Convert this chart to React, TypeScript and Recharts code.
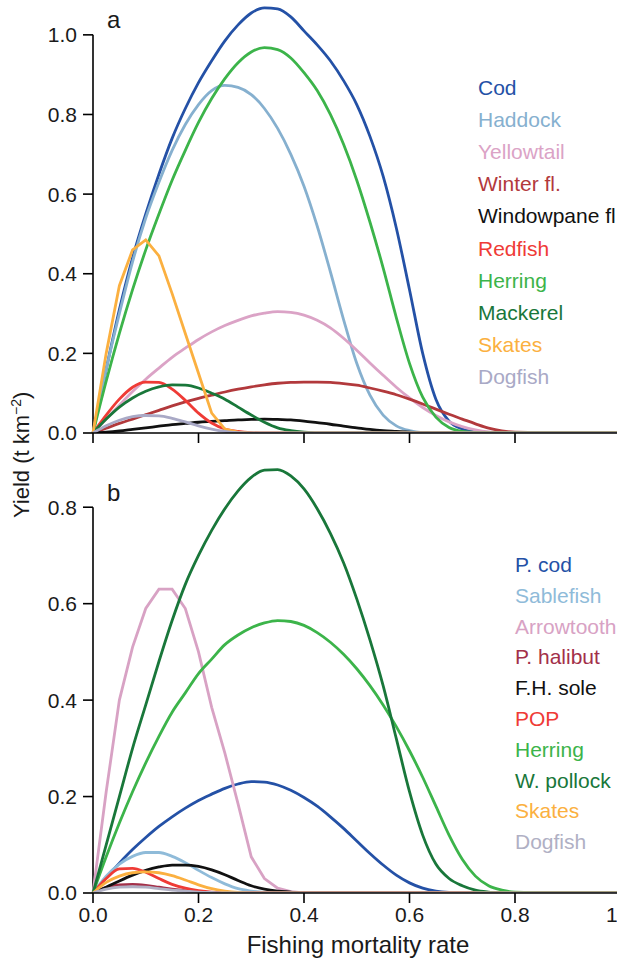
import React from 'react';
import { LineChart, Line, XAxis, YAxis, ReferenceLine } from 'recharts';

// fishing mortality rate (x) grid
const F = [
  0, 0.025, 0.05, 0.075, 0.1, 0.125, 0.15, 0.175, 0.2, 0.225, 0.25, 0.275, 0.3, 0.325, 0.35, 0.375, 0.4,
  0.425, 0.45, 0.475, 0.5, 0.525, 0.55, 0.575, 0.6, 0.625, 0.65, 0.675, 0.7, 0.725, 0.75, 0.775, 0.8, 0.9, 1.0,
];

// panel a
const codA = [0, 0.16, 0.31, 0.44, 0.55, 0.65, 0.74, 0.815, 0.88, 0.935, 0.985, 1.025, 1.055, 1.068, 1.065, 1.045, 1.01, 0.975, 0.935, 0.885, 0.825, 0.745, 0.645, 0.515, 0.36, 0.2, 0.085, 0.03, 0.01, 0.003, 0, 0, 0, 0, 0];
const haddockA = [0, 0.16, 0.3, 0.43, 0.54, 0.63, 0.71, 0.775, 0.825, 0.86, 0.873, 0.868, 0.85, 0.815, 0.765, 0.7, 0.62, 0.52, 0.405, 0.285, 0.175, 0.095, 0.045, 0.018, 0.006, 0.001, 0, 0, 0, 0, 0, 0, 0, 0, 0];
const yellowtailA = [0, 0.035, 0.07, 0.104, 0.135, 0.163, 0.19, 0.213, 0.235, 0.254, 0.27, 0.283, 0.294, 0.301, 0.305, 0.303, 0.296, 0.283, 0.264, 0.238, 0.208, 0.176, 0.145, 0.115, 0.088, 0.064, 0.044, 0.028, 0.016, 0.008, 0.003, 0.001, 0, 0, 0];
const winterA = [0, 0.012, 0.024, 0.035, 0.046, 0.057, 0.068, 0.078, 0.087, 0.095, 0.103, 0.11, 0.116, 0.121, 0.125, 0.127, 0.128, 0.128, 0.127, 0.124, 0.12, 0.113, 0.105, 0.096, 0.085, 0.073, 0.06, 0.047, 0.035, 0.023, 0.012, 0.005, 0.002, 0, 0];
const windowpaneA = [0, 0.002, 0.005, 0.009, 0.013, 0.017, 0.021, 0.024, 0.027, 0.029, 0.031, 0.033, 0.034, 0.035, 0.034, 0.033, 0.03, 0.026, 0.022, 0.017, 0.013, 0.009, 0.006, 0.004, 0.002, 0.001, 0, 0, 0, 0, 0, 0, 0, 0, 0];
const redfishA = [0, 0.045, 0.085, 0.115, 0.128, 0.127, 0.11, 0.082, 0.05, 0.025, 0.01, 0.004, 0.001, 0, 0, 0, 0, 0, 0, 0, 0, 0, 0, 0, 0, 0, 0, 0, 0, 0, 0, 0, 0, 0, 0];
const herringA = [0, 0.13, 0.25, 0.36, 0.46, 0.55, 0.635, 0.71, 0.78, 0.84, 0.89, 0.93, 0.957, 0.968, 0.963, 0.942, 0.905, 0.86, 0.8, 0.725, 0.635, 0.53, 0.415, 0.29, 0.175, 0.09, 0.04, 0.014, 0.004, 0.001, 0, 0, 0, 0, 0];
const mackerelA = [0, 0.035, 0.065, 0.088, 0.105, 0.116, 0.121, 0.12, 0.113, 0.1, 0.085, 0.065, 0.045, 0.027, 0.013, 0.006, 0.002, 0, 0, 0, 0, 0, 0, 0, 0, 0, 0, 0, 0, 0, 0, 0, 0, 0, 0];
const skatesA = [0, 0.2, 0.37, 0.46, 0.485, 0.445, 0.35, 0.25, 0.15, 0.05, 0.01, 0.002, 0, 0, 0, 0, 0, 0, 0, 0, 0, 0, 0, 0, 0, 0, 0, 0, 0, 0, 0, 0, 0, 0, 0];
const dogfishA = [0, 0.018, 0.032, 0.041, 0.044, 0.043, 0.037, 0.028, 0.018, 0.01, 0.004, 0.001, 0, 0, 0, 0, 0, 0, 0, 0, 0, 0, 0, 0, 0, 0, 0, 0, 0, 0, 0, 0, 0, 0, 0];

// panel b
const pcodB = [0, 0.032, 0.062, 0.09, 0.115, 0.138, 0.158, 0.176, 0.192, 0.205, 0.217, 0.226, 0.231, 0.23, 0.224, 0.213, 0.198, 0.18, 0.158, 0.134, 0.108, 0.082, 0.058, 0.037, 0.021, 0.01, 0.004, 0.001, 0, 0, 0, 0, 0, 0, 0];
const sablefishB = [0, 0.035, 0.06, 0.076, 0.084, 0.084, 0.076, 0.063, 0.047, 0.032, 0.019, 0.009, 0.004, 0.001, 0, 0, 0, 0, 0, 0, 0, 0, 0, 0, 0, 0, 0, 0, 0, 0, 0, 0, 0, 0, 0];
const arrowtoothB = [0, 0.21, 0.4, 0.51, 0.59, 0.63, 0.63, 0.59, 0.5, 0.385, 0.29, 0.185, 0.075, 0.03, 0.01, 0.003, 0, 0, 0, 0, 0, 0, 0, 0, 0, 0, 0, 0, 0, 0, 0, 0, 0, 0, 0];
const halibutB = [0, 0.012, 0.017, 0.018, 0.016, 0.012, 0.008, 0.005, 0.003, 0.001, 0, 0, 0, 0, 0, 0, 0, 0, 0, 0, 0, 0, 0, 0, 0, 0, 0, 0, 0, 0, 0, 0, 0, 0, 0];
const fhsoleB = [0, 0.012, 0.025, 0.037, 0.047, 0.054, 0.058, 0.058, 0.055, 0.048, 0.038, 0.026, 0.015, 0.008, 0.004, 0.002, 0, 0, 0, 0, 0, 0, 0, 0, 0, 0, 0, 0, 0, 0, 0, 0, 0, 0, 0];
const popB = [0, 0.03, 0.05, 0.051, 0.043, 0.03, 0.018, 0.01, 0.005, 0.002, 0.001, 0, 0, 0, 0, 0, 0, 0, 0, 0, 0, 0, 0, 0, 0, 0, 0, 0, 0, 0, 0, 0, 0, 0, 0];
const herringB = [0, 0.075, 0.145, 0.21, 0.27, 0.325, 0.375, 0.415, 0.455, 0.485, 0.515, 0.535, 0.55, 0.56, 0.565, 0.563, 0.555, 0.54, 0.52, 0.495, 0.465, 0.43, 0.39, 0.345, 0.295, 0.24, 0.18, 0.12, 0.07, 0.035, 0.015, 0.006, 0.002, 0, 0];
const pollockB = [0, 0.1, 0.2, 0.3, 0.39, 0.48, 0.565, 0.64, 0.7, 0.752, 0.797, 0.834, 0.862, 0.877, 0.878, 0.865, 0.838, 0.797, 0.746, 0.685, 0.61, 0.525, 0.43, 0.32, 0.21, 0.12, 0.06, 0.03, 0.015, 0.006, 0.002, 0, 0, 0, 0];
const skatesB = [0, 0.022, 0.035, 0.042, 0.044, 0.042, 0.036, 0.027, 0.017, 0.009, 0.004, 0.001, 0, 0, 0, 0, 0, 0, 0, 0, 0, 0, 0, 0, 0, 0, 0, 0, 0, 0, 0, 0, 0, 0, 0];
const dogfishB = [0, 0.008, 0.012, 0.013, 0.012, 0.009, 0.006, 0.004, 0.002, 0.001, 0, 0, 0, 0, 0, 0, 0, 0, 0, 0, 0, 0, 0, 0, 0, 0, 0, 0, 0, 0, 0, 0, 0, 0, 0];

const namesA = ['Cod', 'Haddock', 'Yellowtail', 'Winter fl.', 'Windowpane fl.', 'Redfish', 'Herring', 'Mackerel', 'Skates', 'Dogfish'];
const namesB = ['P. cod', 'Sablefish', 'Arrowtooth', 'P. halibut', 'F.H. sole', 'POP', 'Herring', 'W. pollock', 'Skates', 'Dogfish'];
const seriesA = [codA, haddockA, yellowtailA, winterA, windowpaneA, redfishA, herringA, mackerelA, skatesA, dogfishA];
const seriesB = [pcodB, sablefishB, arrowtoothB, halibutB, fhsoleB, popB, herringB, pollockB, skatesB, dogfishB];
const colorsA = ['#2451a6', '#86b0cf', '#dba3c6', '#b2393c', '#111111', '#ef3b36', '#3cb44a', '#19773a', '#fbb040', '#a9a9c6'];
const colorsB = ['#2451a6', '#8fbbd9', '#d8a2c4', '#a33049', '#111111', '#ef3b36', '#3cb44a', '#19773a', '#fbb040', '#b0b0c4'];
// coarse, kinked curves in the original
const linearA = ['Skates'];
const linearB = ['Arrowtooth'];

const xTicks = [0, 0.2, 0.4, 0.6, 0.8, 1];
const yTicksA = [0, 0.2, 0.4, 0.6, 0.8, 1.0];
const yTicksB = [0, 0.2, 0.4, 0.6, 0.8];

const FONT = '"Liberation Sans", Arial, Helvetica, sans-serif';
const tickStyle = { fontSize: 21, fill: '#1a1a1a', fontFamily: FONT };
const AXIS = { stroke: '#000', strokeWidth: 1.6 };

const buildRows = (series: number[][]) =>
  F.map((f, i) => {
    const row: Record<string, number> = { f };
    series.forEach((s, k) => (row['s' + k] = s[i]));
    return row;
  });

interface PanelProps {
  series: number[][];
  names: string[];
  colors: string[];
  linear: string[];
  top: number;
  height: number;
  marginTop: number;
  yMax: number;
  yTicks: number[];
  xAxisHeight: number;
  showXLabels: boolean;
}

const Panel = ({ series, names, colors, linear, top, height, marginTop, yMax, yTicks, xAxisHeight, showXLabels }: PanelProps) => (
  <div style={{ position: 'absolute', left: 0, top }}>
    <LineChart width={640} height={height} data={buildRows(series)} margin={{ top: marginTop, right: 19.5, bottom: 0, left: 0 }}>
      <XAxis
        dataKey="f"
        type="number"
        domain={[0, 1]}
        ticks={xTicks}
        height={xAxisHeight}
        tickSize={10}
        tickMargin={4}
        tick={tickStyle}
        tickFormatter={(v: number) => (showXLabels ? (v === 1 ? '1.0' : v.toFixed(1)) : '')}
        axisLine={AXIS}
        tickLine={AXIS}
      />
      <YAxis
        type="number"
        domain={[0, yMax]}
        ticks={yTicks}
        width={93}
        tickSize={10}
        tickMargin={6}
        tick={tickStyle}
        tickFormatter={(v: number) => v.toFixed(1)}
        axisLine={false}
        tickLine={AXIS}
        allowDataOverflow
      />
      <ReferenceLine segment={[{ x: 0, y: 0 }, { x: 0, y: yTicks[yTicks.length - 1] }]} stroke="#000" strokeWidth={1.6} />
      {colors.map((c, k) => (
        <Line
          key={names[k]}
          dataKey={'s' + k}
          type={linear.includes(names[k]) ? 'linear' : 'monotone'}
          stroke={c}
          strokeWidth={2.8}
          dot={false}
          activeDot={false}
          isAnimationActive={false}
        />
      ))}
    </LineChart>
  </div>
);

const Legend = ({ names, colors, x, y0, step }: { names: string[]; colors: string[]; x: number; y0: number; step: number }) => (
  <g>
    {names.map((n, k) => (
      <text key={n} x={x} y={y0 + k * step} fill={colors[k]} fontSize={21} fontFamily={FONT}>
        {n}
      </text>
    ))}
  </g>
);

export default function App() {
  return (
    <div style={{ position: 'fixed', left: 0, top: 0, width: 617, height: 976, overflow: 'hidden', background: '#fff', fontFamily: FONT }}>
      <Panel
        series={seriesA}
        names={namesA}
        colors={colorsA}
        linear={linearA}
        top={0}
        height={460}
        marginTop={3}
        yMax={1.08}
        yTicks={yTicksA}
        xAxisHeight={27}
        showXLabels={false}
      />
      <Panel
        series={seriesB}
        names={namesB}
        colors={colorsB}
        linear={linearB}
        top={450}
        height={526}
        marginTop={9}
        yMax={0.9}
        yTicks={yTicksB}
        xAxisHeight={83}
        showXLabels
      />
      <svg width={617} height={976} style={{ position: 'absolute', left: 0, top: 0, pointerEvents: 'none' }}>
        <text x={107} y={28} fontSize={24} fontFamily={FONT} fill="#1a1a1a">a</text>
        <text x={107} y={501} fontSize={24} fontFamily={FONT} fill="#1a1a1a">b</text>
        <Legend names={namesA} colors={colorsA} x={478} y0={95} step={32.1} />
        <Legend names={namesB} colors={colorsB} x={515} y0={572} step={30.8} />
        <text x={358} y={953} textAnchor="middle" fontSize={24} fontFamily={FONT} fill="#1a1a1a">
          Fishing mortality rate
        </text>
        <text transform="translate(29,518) rotate(-90)" fontSize={22} fontFamily={FONT} fill="#1a1a1a">
          Yield (t km<tspan dy={-8} fontSize={14}>−2</tspan>
          <tspan dy={8}>)</tspan>
        </text>
      </svg>
    </div>
  );
}
